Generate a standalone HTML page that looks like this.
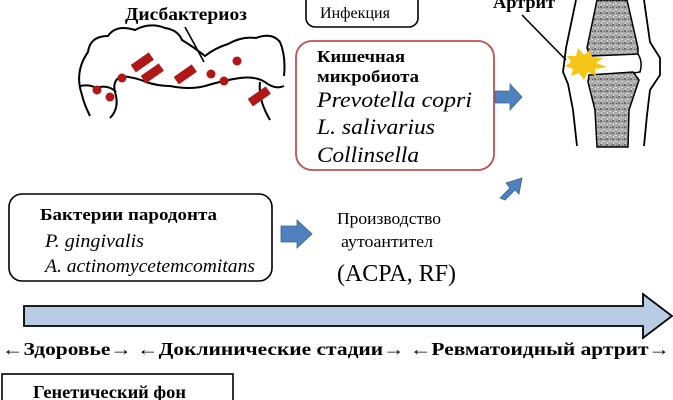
<!DOCTYPE html>
<html><head><meta charset="utf-8"><style>
html,body{margin:0;padding:0;background:#fff;}
svg{display:block;}
text{font-family:"Liberation Serif",serif;}
</style></head><body>
<svg width="673" height="400" viewBox="0 0 673 400" xmlns="http://www.w3.org/2000/svg">
<defs>
<pattern id="g" width="6" height="6" patternUnits="userSpaceOnUse">
<rect width="6" height="6" fill="#a8a8a8"/>
<rect x="0" y="0" width="2" height="2" fill="#6e6e6e"/>
<rect x="3" y="3" width="2" height="1" fill="#e0e0e0"/>
<rect x="4" y="1" width="1" height="1" fill="#555"/>
<rect x="1" y="4" width="1" height="2" fill="#ddd"/>
</pattern>
</defs>

<!-- Dysbacteriosis -->
<text x="125" y="20" font-size="18" font-weight="bold" textLength="122" lengthAdjust="spacingAndGlyphs">Дисбактериоз</text>
<line x1="185" y1="27" x2="204" y2="62" stroke="#000" stroke-width="1.6"/>
<path d="M82,95 Q74,72 88,52 Q90,36 108,36 Q116,24 135,30 Q150,22 165,28 Q178,30 182,40 Q195,48 205,56 Q215,48 228,44 Q242,36 256,38 Q272,32 280,42 Q286,56 284,76 M115,92 Q112,80 122,76 Q138,78 146,82 Q158,86 170,86 Q190,90 205,86 Q225,80 240,78 Q255,76 265,82 Q275,90 284,86 M82,95 Q84,104 90,116 M80,86 Q90,84 96,88 Q108,84 116,92 M115,92 Q120,108 110,118 M260,82 Q258,100 270,120" fill="none" stroke="#000" stroke-width="2"/>
<g fill="#b01818">
<rect x="131" y="58" width="22" height="9" transform="rotate(-35 142 62)"/>
<rect x="141" y="69" width="22" height="9" transform="rotate(-35 152 73)"/>
<rect x="174" y="70" width="22" height="9" transform="rotate(-35 185 74)"/>
<rect x="248" y="92" width="22" height="9" transform="rotate(-35 259 96)"/>
<circle cx="97" cy="90" r="4.5"/><circle cx="110" cy="97" r="4.5"/>
<circle cx="122" cy="78" r="4.5"/><circle cx="211" cy="74" r="4.5"/>
<circle cx="224" cy="81" r="4.5"/><circle cx="237" cy="61" r="4.5"/>
</g>

<!-- Infection -->
<rect x="306" y="-8" width="112" height="35" rx="9" fill="#fff" stroke="#000" stroke-width="1.6"/>
<text x="320" y="18" font-size="16" textLength="70" lengthAdjust="spacingAndGlyphs">Инфекция</text>

<!-- Gut microbiota -->
<rect x="296" y="41" width="198" height="129" rx="16" fill="#fff" stroke="#c0504d" stroke-width="1.8"/>
<text x="317" y="62" font-size="17" font-weight="bold" textLength="88" lengthAdjust="spacingAndGlyphs">Кишечная</text>
<text x="317" y="82" font-size="17" font-weight="bold" textLength="102" lengthAdjust="spacingAndGlyphs">микробиота</text>
<text x="317" y="107" font-size="22" font-style="italic" textLength="155" lengthAdjust="spacingAndGlyphs">Prevotella  copri</text>
<text x="317" y="134" font-size="22" font-style="italic" textLength="118" lengthAdjust="spacingAndGlyphs">L. salivarius</text>
<text x="317" y="162" font-size="22" font-style="italic" textLength="102" lengthAdjust="spacingAndGlyphs">Collinsella</text>
<polygon points="495,91 510,91 510,84 522,97 510,110 510,103 495,103" fill="#4f81bd" stroke="#3a6396" stroke-width="0.8"/>
<polygon points="500,198 510,188 506,183 522,178 519,194 515,190 505,200" fill="#4f81bd" stroke="#3a6396" stroke-width="0.8"/>

<!-- Joint -->
<text x="493" y="8" font-size="18" font-weight="bold" textLength="62" lengthAdjust="spacingAndGlyphs">Артрит</text>
<line x1="522" y1="15" x2="566" y2="60" stroke="#000" stroke-width="1.6"/>
<path d="M597,0 L627,0 L638,48 L638,54 L590,56 L587,48 Z" fill="url(#g)" stroke="#000" stroke-width="1.5"/>
<path d="M589,75 L633,72 L639,80 L629,110 L628,147 L597,147 L595,110 L588,82 Z" fill="url(#g)" stroke="#000" stroke-width="1.5"/>
<path d="M638,54 Q643,62 640,72 L633,73" fill="none" stroke="#000" stroke-width="1.5"/>
<path d="M576,0 L566,48 L563,72 L568,84 L573,110 L577,146" fill="none" stroke="#000" stroke-width="1.8"/>
<path d="M644,0 L650,42 L660,58 L660,75 L650,90 L647,115 L644,146" fill="none" stroke="#000" stroke-width="1.8"/>
<polygon points="567,56 576,56 578,48 584,55 590,50 592,57 603,58 596,63 607,67 595,69 596,76 588,72 584,80 579,73 571,76 573,69 565,66 571,62" fill="#f5c518"/>

<!-- Periodontal -->
<rect x="9" y="194" width="263" height="87" rx="13" fill="#fff" stroke="#000" stroke-width="1.6"/>
<text x="40" y="220" font-size="17" font-weight="bold" textLength="177" lengthAdjust="spacingAndGlyphs">Бактерии пародонта</text>
<text x="45" y="247" font-size="19" font-style="italic" textLength="99" lengthAdjust="spacingAndGlyphs">P. gingivalis</text>
<text x="45" y="272" font-size="19" font-style="italic" textLength="210" lengthAdjust="spacingAndGlyphs">A. actinomycetemcomitans</text>
<polygon points="281,226 297,226 297,220 312,234 297,248 297,242 281,242" fill="#4f81bd" stroke="#3a6396" stroke-width="0.8"/>
<text x="337" y="224" font-size="17" textLength="104" lengthAdjust="spacingAndGlyphs">Производство</text>
<text x="341" y="247" font-size="17" textLength="92" lengthAdjust="spacingAndGlyphs">аутоантител</text>
<text x="337" y="281" font-size="24" textLength="119" lengthAdjust="spacingAndGlyphs">(ACPA, RF)</text>

<!-- Timeline arrow -->
<polygon points="24,306 643,306 643,294 672,316 643,338 643,326 24,326" fill="#b8cce4" stroke="#000" stroke-width="1.8"/>
<text x="2" y="355" font-size="18" font-weight="bold" textLength="668" lengthAdjust="spacingAndGlyphs">←Здоровье→ ←Доклинические стадии→ ←Ревматоидный артрит→</text>

<!-- Genetic -->
<rect x="2" y="374" width="231" height="40" fill="#fff" stroke="#000" stroke-width="1.6"/>
<text x="33" y="398" font-size="18" font-weight="bold" textLength="153" lengthAdjust="spacingAndGlyphs">Генетический фон</text>
</svg>
</body></html>
